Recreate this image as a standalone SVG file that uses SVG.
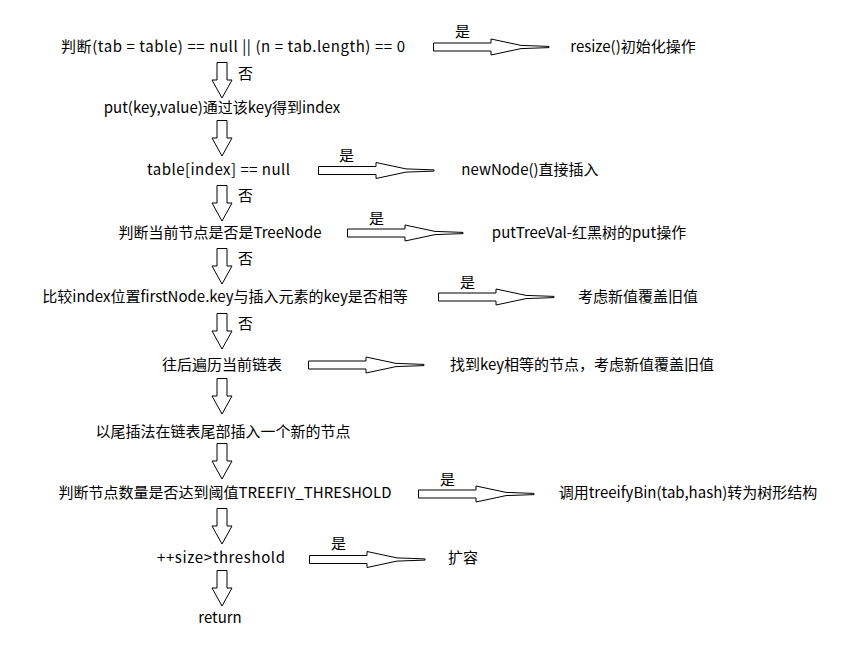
<svg xmlns="http://www.w3.org/2000/svg" xmlns:xlink="http://www.w3.org/1999/xlink" width="866" height="654" viewBox="0 0 866 654">
<style>
text{font-family:"Microsoft YaHei","Noto Sans CJK SC","Noto Sans",sans-serif;font-size:15px;fill:#000}
.m{text-anchor:middle}
.a{fill:#fff;stroke:#000;stroke-width:1}
</style>
<defs>
<path id="ha" class="a" d="M0.5,-4 H58 V-8 L88,-1.6 L116,-0.6 L116,0.6 L88,1.6 L58,8 V4 H0.5 Z"/>
<path id="va" class="a" d="M-5,0.5 H5 V18 H10 L0,36 L-10,18 H-5 Z"/>
</defs>
<rect width="866" height="654" fill="#fff"/>
<g id="connectors">
<use xlink:href="#va" transform="translate(222,62)"/>
<use xlink:href="#va" transform="translate(222,120)"/>
<use xlink:href="#va" transform="translate(222,185)"/>
<use xlink:href="#va" transform="translate(222,248)"/>
<use xlink:href="#va" transform="translate(222,313)"/>
<use xlink:href="#va" transform="translate(222,378)"/>
<use xlink:href="#va" transform="translate(222,443)"/>
<use xlink:href="#va" transform="translate(222,508)"/>
<use xlink:href="#va" transform="translate(222,570)"/>
<use xlink:href="#ha" transform="translate(433,47)"/>
<use xlink:href="#ha" transform="translate(318,170.5)"/>
<use xlink:href="#ha" transform="translate(347,233)"/>
<use xlink:href="#ha" transform="translate(438,297)"/>
<use xlink:href="#ha" transform="translate(308,365)"/>
<use xlink:href="#ha" transform="translate(418,494)"/>
<use xlink:href="#ha" transform="translate(309,559.5)"/>
<text x="238" y="79">否</text>
<text x="238" y="201">否</text>
<text x="238" y="264">否</text>
<text x="238" y="329">否</text>
<text x="455" y="37">是</text>
<text x="339" y="161">是</text>
<text x="369" y="224">是</text>
<text x="460" y="288">是</text>
<text x="440" y="485">是</text>
<text x="331" y="549">是</text>
</g>
<g id="n1"><text x="61" y="52" textLength="344" lengthAdjust="spacing">判断(tab = table) == null || (n = tab.length) == 0</text></g>
<g id="n2"><text class="m" x="633" y="52">resize()初始化操作</text></g>
<g id="n3"><text class="m" x="222" y="113">put(key,value)通过该key得到index</text></g>
<g id="n4"><text x="147" y="175" textLength="143" lengthAdjust="spacing">table[index] == null</text></g>
<g id="n5"><text class="m" x="530" y="175">newNode()直接插入</text></g>
<g id="n6"><text class="m" x="220" y="238">判断当前节点是否是TreeNode</text></g>
<g id="n7"><text class="m" x="589" y="238">putTreeVal-红黑树的put操作</text></g>
<g id="n8"><text class="m" x="225" y="302">比较index位置firstNode.key与插入元素的key是否相等</text></g>
<g id="n9"><text class="m" x="638" y="302">考虑新值覆盖旧值</text></g>
<g id="n10"><text class="m" x="222" y="370">往后遍历当前链表</text></g>
<g id="n11"><text class="m" x="582" y="370">找到key相等的节点，考虑新值覆盖旧值</text></g>
<g id="n12"><text class="m" x="223" y="437">以尾插法在链表尾部插入一个新的节点</text></g>
<g id="n13"><text class="m" x="225" y="498">判断节点数量是否达到阈值TREEFIY_THRESHOLD</text></g>
<g id="n14"><text class="m" x="688" y="498">调用treeifyBin(tab,hash)转为树形结构</text></g>
<g id="n15"><text x="157" y="563" textLength="128" lengthAdjust="spacing">++size&gt;threshold</text></g>
<g id="n16"><text class="m" x="463" y="563">扩容</text></g>
<g id="n17"><text class="m" x="220" y="623">return</text></g>
</svg>
